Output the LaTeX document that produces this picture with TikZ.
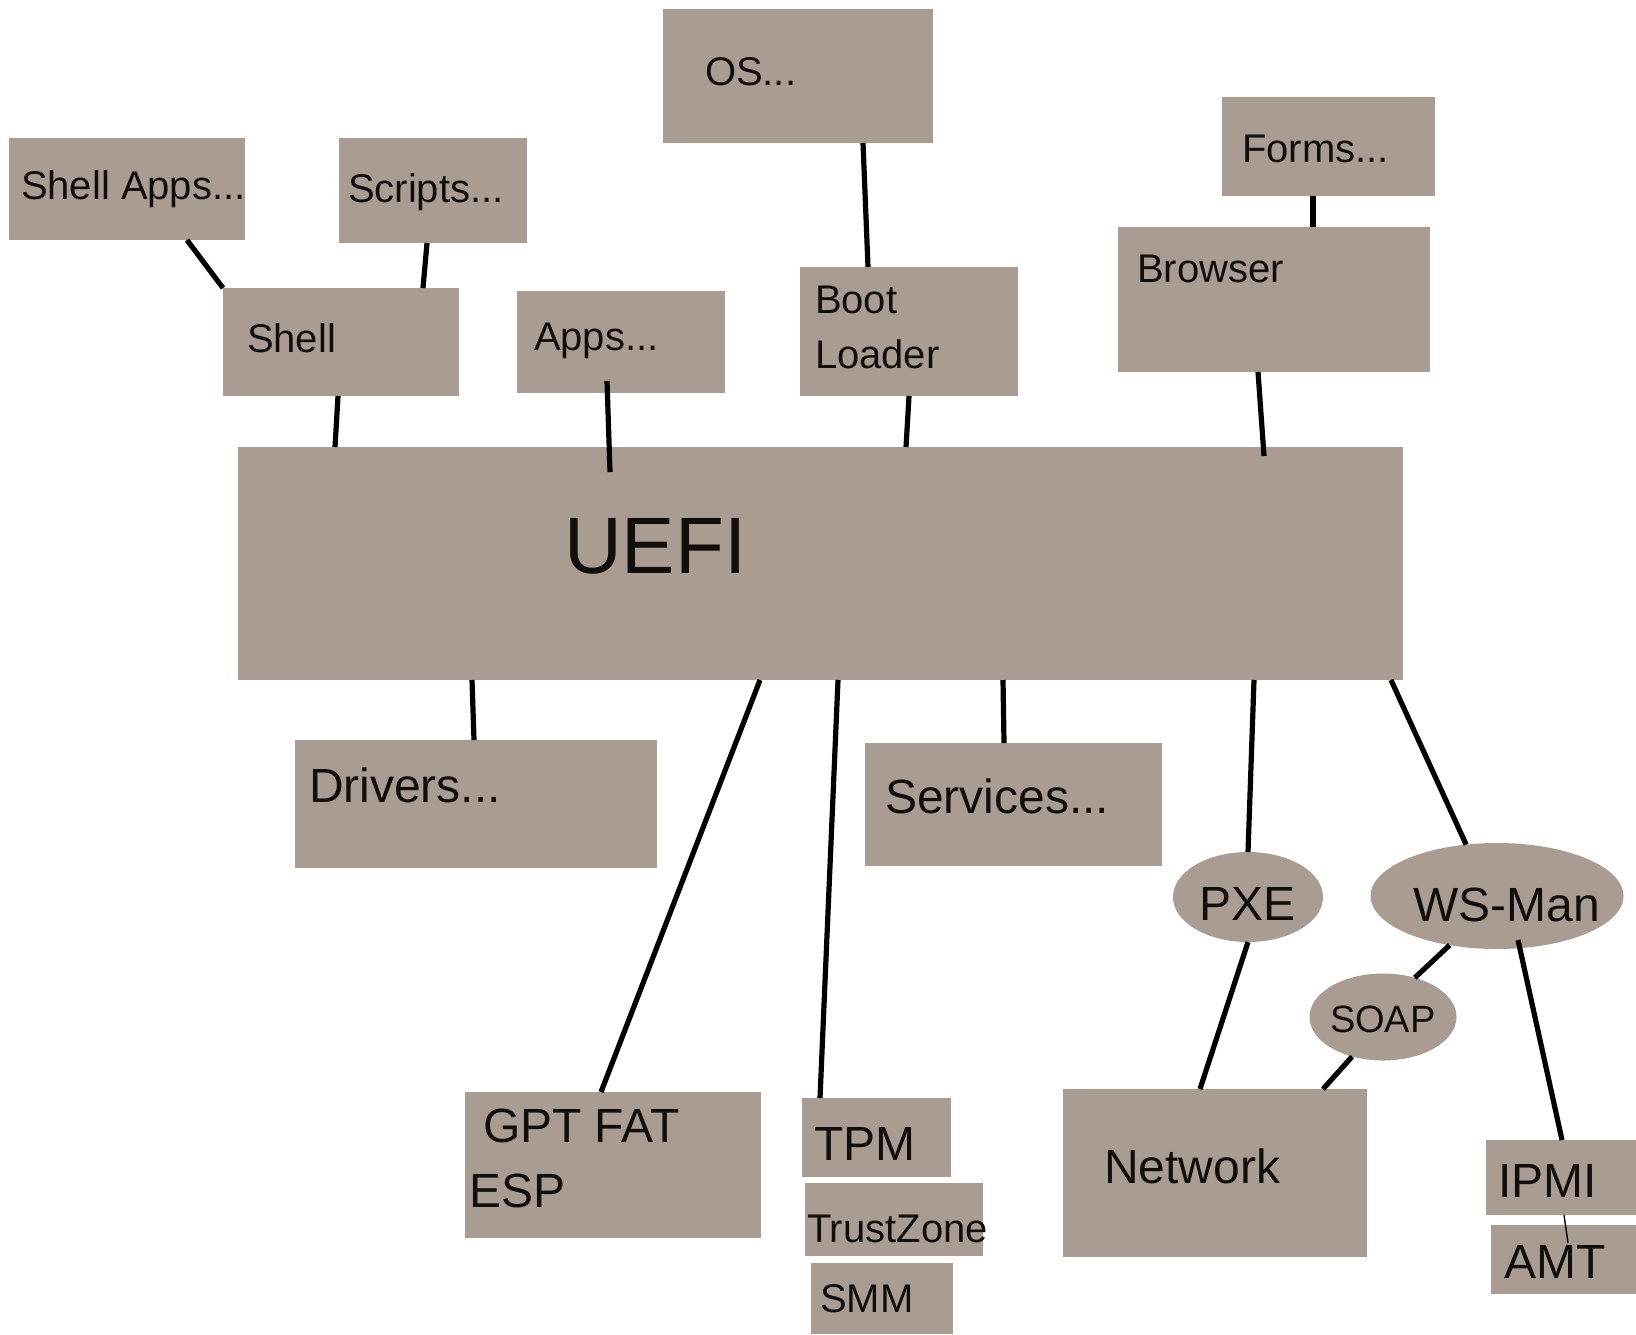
\documentclass[tikz,border=0pt]{standalone}
\usepackage{fontspec}
\setmainfont{Liberation Sans}
\usetikzlibrary{shapes.geometric,calc}

\definecolor{boxfill}{RGB}{169,157,147}
\definecolor{ink}{RGB}{17,14,12}

\tikzset{
  blk/.style={rectangle, fill=boxfill, draw=none, inner sep=0pt, outer sep=0pt},
  oval/.style={ellipse, fill=boxfill, draw=none, inner sep=0pt, outer sep=0pt},
  lbl/.style={anchor=base west, inner sep=0pt, outer sep=0pt, text=ink},
  fsmall/.style={font=\fontsize{20}{27.5}\selectfont},
  fmid/.style={font=\fontsize{24}{32.5}\selectfont},
  fbig/.style={font=\fontsize{40}{48}\selectfont},
  link/.style={line width=2.6pt, black},
  thinlink/.style={line width=0.7pt, black},
}

% rectangle block from its two corners: name, x1, y1, x2, y2
\newcommand\blockat[5]{%
  \node[blk, minimum width={(#4-#2)*0.5pt}, minimum height={(#5-#3)*0.5pt}]
    (#1) at ({(#2+#4)/2},{(#3+#5)/2}) {};}
% ellipse from its centre and full size: name, cx, cy, w, h
\newcommand\ovalat[5]{%
  \node[oval, minimum width={#4*0.5pt}, minimum height={#5*0.5pt}]
    (#1) at (#2,#3) {};}

\begin{document}
\begin{tikzpicture}[x=0.5pt, y=-0.5pt]
\fill[white] (0,0) rectangle (1636,1334);
\useasboundingbox (0,0) rectangle (1636,1334);

% --- blocks ---
\blockat{os}{663}{9}{933}{143}
\blockat{shellapps}{9}{138}{245}{240}
\blockat{scripts}{339}{138}{527}{243}
\blockat{shell}{223}{288}{459}{396}
\blockat{apps}{517}{291}{725}{393}
\blockat{boot}{800}{267}{1018}{396}
\blockat{forms}{1222}{97}{1435}{196}
\blockat{browser}{1118}{227}{1430}{372}
\blockat{uefi}{238}{447}{1403}{680}
\blockat{drivers}{295}{740}{657}{868}
\blockat{services}{865}{743}{1162}{866}
\blockat{gpt}{465}{1092}{761}{1238}
\blockat{tpm}{802}{1098}{951}{1177}
\blockat{trustzone}{805}{1183}{983}{1256}
\blockat{smm}{811}{1263}{953}{1334}
\blockat{network}{1063}{1089}{1367}{1257}
\blockat{ipmi}{1486}{1140}{1636}{1215}
\blockat{amt}{1491}{1225}{1636}{1294}

\ovalat{pxe}{1248}{897}{150}{90}
\ovalat{wsman}{1497}{896}{253}{106}
\ovalat{soap}{1383}{1017}{147}{87}

% --- labels (multi-line ones sit on the baseline of their last line) ---
\node[lbl, fsmall] (os-t) at (705,85) {OS...};
\node[lbl, fsmall] (shellapps-t) at (21,199) {Shell Apps...};
\node[lbl, fsmall] (scripts-t) at (348,202) {Scripts...};
\node[lbl, fsmall] (shell-t) at (247,352) {Shell};
\node[lbl, fsmall] (apps-t) at (534,350) {Apps...};
\node[lbl, fsmall, align=left] (boot-t) at (815,368) {Boot\\Loader};
\node[lbl, fsmall] (forms-t) at (1242,162) {Forms...};
\node[lbl, fsmall] (browser-t) at (1137,282) {Browser};
\node[lbl, fbig] (uefi-t) at (564,573) {UEFI};
\node[lbl, fmid] (drivers-t) at (309,802) {Drivers...};
\node[lbl, fmid] (services-t) at (885,813) {Services...};
\node[lbl, fmid, align=left] (gpt-t) at (469,1207) {\hspace*{7pt}GPT FAT\\ESP};
\node[lbl, fmid] (tpm-t) at (814,1160) {TPM};
\node[lbl, font=\fontsize{20}{24}\selectfont] (trustzone-t) at (807,1242) {TrustZone};
\node[lbl, fsmall] (smm-t) at (820,1312) {SMM};
\node[lbl, fmid] (network-t) at (1104,1183) {Network};
\node[lbl, fmid] (pxe-t) at (1199,920) {PXE};
\node[lbl, fmid] (wsman-t) at (1413,921) {WS-Man};
\node[lbl, font=\fontsize{19}{23}\selectfont] (soap-t) at (1330,1032) {SOAP};
\node[lbl, fmid] (ipmi-t) at (1498,1197) {IPMI};
\node[lbl, fmid] (amt-t) at (1504,1278) {AMT};

% --- connectors ---
\draw[link] ($(shellapps.south west)+(178,0)$) -- (shell.north west);
\draw[link] ($(scripts.south west)+(88,0)$) -- ($(shell.north west)+(200,0)$);
\draw[link] ($(shell.south west)+(115,0)$) -- ($(uefi.north west)+(97,0)$);
\draw[link] ($(apps.south west)+(90,-12)$) -- ($(uefi.north west)+(372,25)$);
\draw[link] ($(os.south west)+(200,0)$) -- ($(boot.north west)+(68,0)$);
\draw[link] ($(boot.south west)+(109,0)$) -- ($(uefi.north west)+(668,0)$);
\draw[link] ($(forms.south west)+(91,0)$) -- ($(browser.north west)+(195,0)$);
\draw[link] ($(browser.south west)+(140,0)$) -- ($(uefi.north west)+(1026,9)$);
\draw[link] ($(uefi.south west)+(234,0)$) -- ($(drivers.north west)+(179,0)$);
\draw[link] ($(uefi.south west)+(522,0)$) -- ($(gpt.north west)+(136,0)$);
\draw[link] ($(uefi.south west)+(600,0)$) -- ($(tpm.north west)+(18,0)$);
\draw[link] ($(uefi.south west)+(765,0)$) -- ($(services.north west)+(139,0)$);
\draw[link] ($(uefi.south west)+(1016,0)$) -- (pxe.north);
\draw[link] ($(uefi.south west)+(1153,0)$) -- (wsman.121);
\draw[link] (pxe.south) -- ($(network.north west)+(137,0)$);
\draw[link] (wsman.226) -- (soap.51);
\draw[link] (soap.232) -- ($(network.north west)+(260,0)$);
\draw[link] ($(wsman.center)+(21,44)$) -- ($(ipmi.north west)+(76,0)$);
\draw[thinlink] ($(ipmi.south west)+(78,0)$) -- ($(amt.north west)+(77,18)$);
\end{tikzpicture}
\end{document}
